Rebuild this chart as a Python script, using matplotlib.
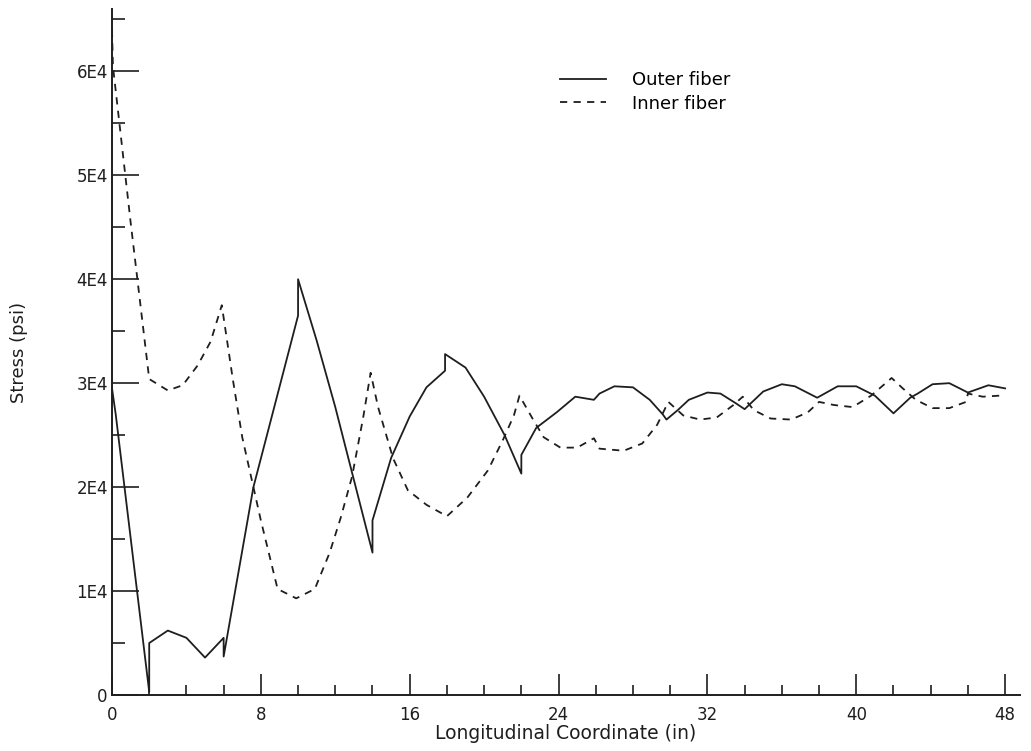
import matplotlib
matplotlib.use("Agg")
import matplotlib.pyplot as plt
from matplotlib.ticker import MultipleLocator, FixedLocator

plt.rcParams['font.family'] = ['DejaVu Sans']

# Outer fiber (solid)
outer_x = [0, 0.2, 2, 2, 3, 4, 5, 6, 6, 7.6, 10, 10, 11, 12, 13, 14, 14, 15, 16, 16.9, 17.9, 17.9,
           19, 20, 21.1, 22, 22, 22.8, 23.9, 24.9, 25.9, 26.2, 27, 28, 28.9, 29.6, 29.8,
           30.4, 31, 32, 32.7, 33.5, 34, 35, 36, 36.7, 37.9, 39, 40, 41, 42, 42.9, 43.3,
           44.1, 45, 46, 47.1, 48]
outer_y = [29500, 27000, 300, 5000, 6200, 5500, 3600, 5500, 3700, 20000, 36500, 40000, 34100,
           27700, 20700, 13700, 16800, 22800, 26800, 29600, 31200, 32800,
           31500, 28700, 25000, 21300, 23100, 25700, 27200, 28700, 28400, 29000, 29700, 29600,
           28400, 27000, 26500, 27400, 28400, 29100, 29000, 28100, 27500, 29200, 29900, 29700,
           28600, 29700, 29700, 28800, 27100, 28600, 29000, 29900, 30000, 29100, 29800, 29500]

# Inner fiber (dashed)
inner_x = [0, 0.05, 1, 2, 3, 3.8, 4.6, 5.3, 5.9, 6.5, 7, 7.6, 8, 8.9, 9.9, 10.9, 11.7, 12.3,
           12.9, 13.5, 13.9, 14.3, 15.1, 15.9, 16.9, 18, 19.1, 20.2, 21, 21.6, 21.9, 22.6,
           23.2, 24.1, 25, 25.9, 26.2, 27.5, 28.5, 29.3, 29.9, 30.7, 31.6, 32.5, 33.4, 33.9,
           34.5, 35.4, 36.5, 37.4, 38, 38.8, 39.8, 40.8, 41.9, 42.5, 43.2, 44.1, 45, 45.9,
           46, 46.8, 47.7, 48]
inner_y = [64000, 60500, 45500, 30400, 29300, 29800, 31700, 34000, 37500, 30300, 24800, 20000,
           16800, 10200, 9300, 10200, 13700, 17100, 21000, 26700, 31000, 27700, 22800, 19700,
           18300, 17200, 19000, 21600, 24500, 26900, 28800, 26600, 24800, 23800, 23800, 24700,
           23700, 23500, 24200, 26000, 28200, 26900, 26500, 26700, 27900, 28700, 27400, 26600,
           26500, 27200, 28200, 27900, 27700, 28800, 30500, 29500, 28400, 27600, 27600, 28200,
           29000, 28700, 28800, 29000]

y_ticks = [0, 10000, 20000, 30000, 40000, 50000, 60000]
y_labels = ['0', '1E4', '2E4', '3E4', '4E4', '5E4', '6E4']
x_ticks = [0, 8, 16, 24, 32, 40, 48]

ink = '#1e1e1e'
fig = plt.figure(figsize=(10.31, 7.51), dpi=100)
ax = fig.add_axes([112/1031, 56/751, 908/1031, 686/751])

ax.plot(outer_x, outer_y, color=ink, lw=1.3, label='Outer fiber')
ax.plot(inner_x, inner_y, color=ink, lw=1.3, linestyle=(0, (4, 3.5)), label='Inner fiber')

ax.set_xlim(0, 48.8)
ax.set_ylim(0, 66000)
ax.spines['top'].set_visible(False)
ax.spines['right'].set_visible(False)
for s in ('left', 'bottom'):
    ax.spines[s].set_linewidth(1.4)
    ax.spines[s].set_color(ink)

ax.yaxis.set_major_locator(FixedLocator(y_ticks))
ax.set_yticklabels(y_labels)
ax.yaxis.set_minor_locator(MultipleLocator(5000))
ax.xaxis.set_major_locator(FixedLocator(x_ticks))
ax.set_xticklabels([str(v) for v in x_ticks])
ax.xaxis.set_minor_locator(MultipleLocator(2))

ax.tick_params(axis='y', which='major', direction='in', length=19.5, width=1.2, labelsize=12, pad=3, colors=ink)
ax.tick_params(axis='y', which='minor', direction='in', length=9, width=1.2, colors=ink)
ax.tick_params(axis='x', which='major', direction='in', length=15, width=1.2, labelsize=12, pad=8, colors=ink)
ax.tick_params(axis='x', which='minor', direction='in', length=7.5, width=1.2, colors=ink)

ax.set_xlabel('Longitudinal Coordinate (in)', fontsize=13.5, color=ink, labelpad=0)
ax.set_ylabel('Stress (psi)', fontsize=13, color=ink, labelpad=35)

leg = ax.legend(loc='upper left', bbox_to_anchor=(0.475, 0.933), frameon=False,
                fontsize=13, handlelength=2.6, handletextpad=1.4, labelspacing=0.3)

fig.savefig('out.png', dpi=100, facecolor='white')
